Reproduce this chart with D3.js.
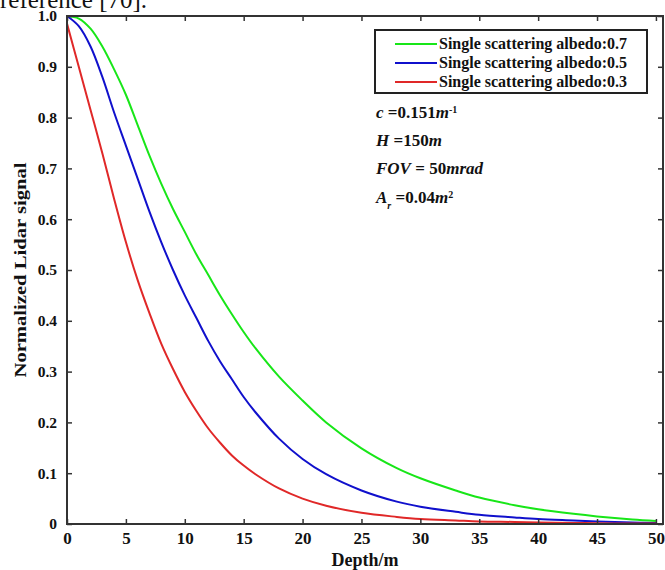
<!DOCTYPE html>
<html>
<head>
<meta charset="utf-8">
<script src="https://cdn.jsdelivr.net/npm/d3@7"></script>
<style>
  html, body { margin: 0; padding: 0; background: #fff; }
  svg { display: block; }
  text { font-family: "Liberation Serif", "Times New Roman", serif; font-weight: bold; fill: #111; }
</style>
</head>
<body>
<svg id="chart" width="665" height="570"></svg>
<script>
// ---- data ----
const depth = [0, 1, 2, 3, 4, 5, 6, 7, 8, 9, 10, 11, 12, 13, 14, 15, 16, 18, 20, 22, 25, 28, 30, 33, 35, 38, 40, 43, 45, 48, 50];
const albedo07 = [1.0, 0.995, 0.975, 0.94, 0.895, 0.845, 0.785, 0.725, 0.67, 0.62, 0.575, 0.53, 0.49, 0.45, 0.413, 0.378, 0.346, 0.29, 0.243, 0.2, 0.149, 0.11, 0.09, 0.066, 0.052, 0.037, 0.029, 0.02, 0.015, 0.009, 0.006];
const albedo05 = [1.0, 0.98, 0.94, 0.88, 0.81, 0.745, 0.68, 0.615, 0.555, 0.5, 0.45, 0.405, 0.36, 0.32, 0.285, 0.25, 0.22, 0.168, 0.128, 0.098, 0.066, 0.044, 0.034, 0.024, 0.018, 0.013, 0.01, 0.007, 0.005, 0.003, 0.002];
const albedo03 = [0.985, 0.9, 0.815, 0.73, 0.64, 0.555, 0.48, 0.415, 0.355, 0.305, 0.26, 0.222, 0.188, 0.16, 0.135, 0.115, 0.098, 0.07, 0.05, 0.036, 0.022, 0.014, 0.01, 0.007, 0.005, 0.004, 0.003, 0.002, 0.0015, 0.001, 0.001];
const seriesNames = ["Single scattering albedo:0.7", "Single scattering albedo:0.5", "Single scattering albedo:0.3"];
const seriesColors = ["#18e618", "#1010cc", "#e02828"];
const xTicks = [0, 5, 10, 15, 20, 25, 30, 35, 40, 45, 50];
const yTicks = [0, 0.1, 0.2, 0.3, 0.4, 0.5, 0.6, 0.7, 0.8, 0.9, 1.0];
const yTickLabels = ["0", "0.1", "0.2", "0.3", "0.4", "0.5", "0.6", "0.7", "0.8", "0.9", "1.0"];

// ---- layout ----
const svg = d3.select("#chart");
const L = 67, R = 663, T = 16, B = 524;
const x = d3.scaleLinear().domain([0, 50.6]).range([L, R]);
const y = d3.scaleLinear().domain([0, 1]).range([B, T]);

// cropped caption from the previous page
svg.append("text").attr("x", 0).attr("y", 8)
  .style("font-weight", "normal").style("font-size", "25px").text("reference [70].");

// curves
const seriesData = [albedo07, albedo05, albedo03];
const line = d3.line().x(d => x(d[0])).y(d => y(d[1])).curve(d3.curveCatmullRom.alpha(0.5));
seriesData.forEach((vals, i) => {
  svg.append("path")
    .datum(depth.map((d, j) => [d, vals[j]]))
    .attr("fill", "none")
    .attr("stroke", seriesColors[i])
    .attr("stroke-width", 2)
    .attr("d", line);
});

// axes (ticks inward on all four sides)
const axisColor = "#333";
const tickLen = 5;
const gB = svg.append("g").attr("transform", `translate(0,${B})`)
  .call(d3.axisBottom(x).tickValues(xTicks).tickSizeInner(-tickLen).tickSizeOuter(0).tickPadding(8).tickFormat(d3.format("d")));
const gT = svg.append("g").attr("transform", `translate(0,${T})`)
  .call(d3.axisTop(x).tickValues(xTicks).tickSizeInner(-tickLen).tickSizeOuter(0).tickFormat(""));
const gL = svg.append("g").attr("transform", `translate(${L},0)`)
  .call(d3.axisLeft(y).tickValues(yTicks).tickSizeInner(-tickLen).tickSizeOuter(0).tickPadding(10).tickFormat((d, i) => yTickLabels[i]));
const gR = svg.append("g").attr("transform", `translate(${R},0)`)
  .call(d3.axisRight(y).tickValues(yTicks).tickSizeInner(-tickLen).tickSizeOuter(0).tickFormat(""));
[gB, gT, gL, gR].forEach(g => {
  g.select(".domain").remove();
  g.selectAll(".tick line").attr("stroke", axisColor).attr("stroke-width", 1.5);
  g.selectAll("text").style("font-family", "'Liberation Serif', serif").style("font-weight", "bold").attr("fill", "#111");
});
gB.selectAll("text").style("font-size", "17px");
gL.selectAll("text").style("font-size", "15.5px");

// frame
svg.append("rect").attr("x", L).attr("y", T).attr("width", R - L).attr("height", B - T)
  .attr("fill", "none").attr("stroke", axisColor).attr("stroke-width", 2);

// axis titles
svg.append("text").attr("x", (L + R) / 2).attr("y", 566).attr("text-anchor", "middle")
  .style("font-size", "18px").text("Depth/m");
svg.append("text").attr("transform", `translate(26,${(T + B) / 2}) rotate(-90)`)
  .attr("text-anchor", "middle").style("font-size", "17px")
  .attr("textLength", 215).attr("lengthAdjust", "spacingAndGlyphs")
  .text("Normalized Lidar signal");

// legend
const lg = svg.append("g");
lg.append("rect").attr("x", 375).attr("y", 30).attr("width", 272).attr("height", 63)
  .attr("fill", "#fff").attr("stroke", "#222").attr("stroke-width", 2);
seriesNames.forEach((name, i) => {
  const yy = 44 + i * 19;
  lg.append("line").attr("x1", 395).attr("x2", 437).attr("y1", yy).attr("y2", yy)
    .attr("stroke", seriesColors[i]).attr("stroke-width", 2);
  lg.append("text").attr("x", 439).attr("y", yy + 5).style("font-size", "16px").text(name);
});

// annotations
const ann = svg.append("g").style("font-size", "17px");
function addAnn(yy, parts) {
  const t = ann.append("text").attr("x", 376).attr("y", yy);
  parts.forEach(p => {
    const ts = t.append("tspan").text(p.t);
    if (p.i) ts.style("font-style", "italic");
    if (p.sup) ts.attr("baseline-shift", "super").style("font-size", "10px");
    if (p.sub) ts.attr("baseline-shift", "sub").style("font-size", "10px");
  });
}
addAnn(118, [{t: "c", i: 1}, {t: " =0.151"}, {t: "m", i: 1}, {t: "-1", sup: 1}]);
addAnn(146, [{t: "H", i: 1}, {t: " =150"}, {t: "m", i: 1}]);
addAnn(174, [{t: "FOV", i: 1}, {t: " = 50"}, {t: "mrad", i: 1}]);
addAnn(203, [{t: "A", i: 1}, {t: "r", i: 1, sub: 1}, {t: " =0.04"}, {t: "m", i: 1}, {t: "2", sup: 1}]);
</script>
</body>
</html>
